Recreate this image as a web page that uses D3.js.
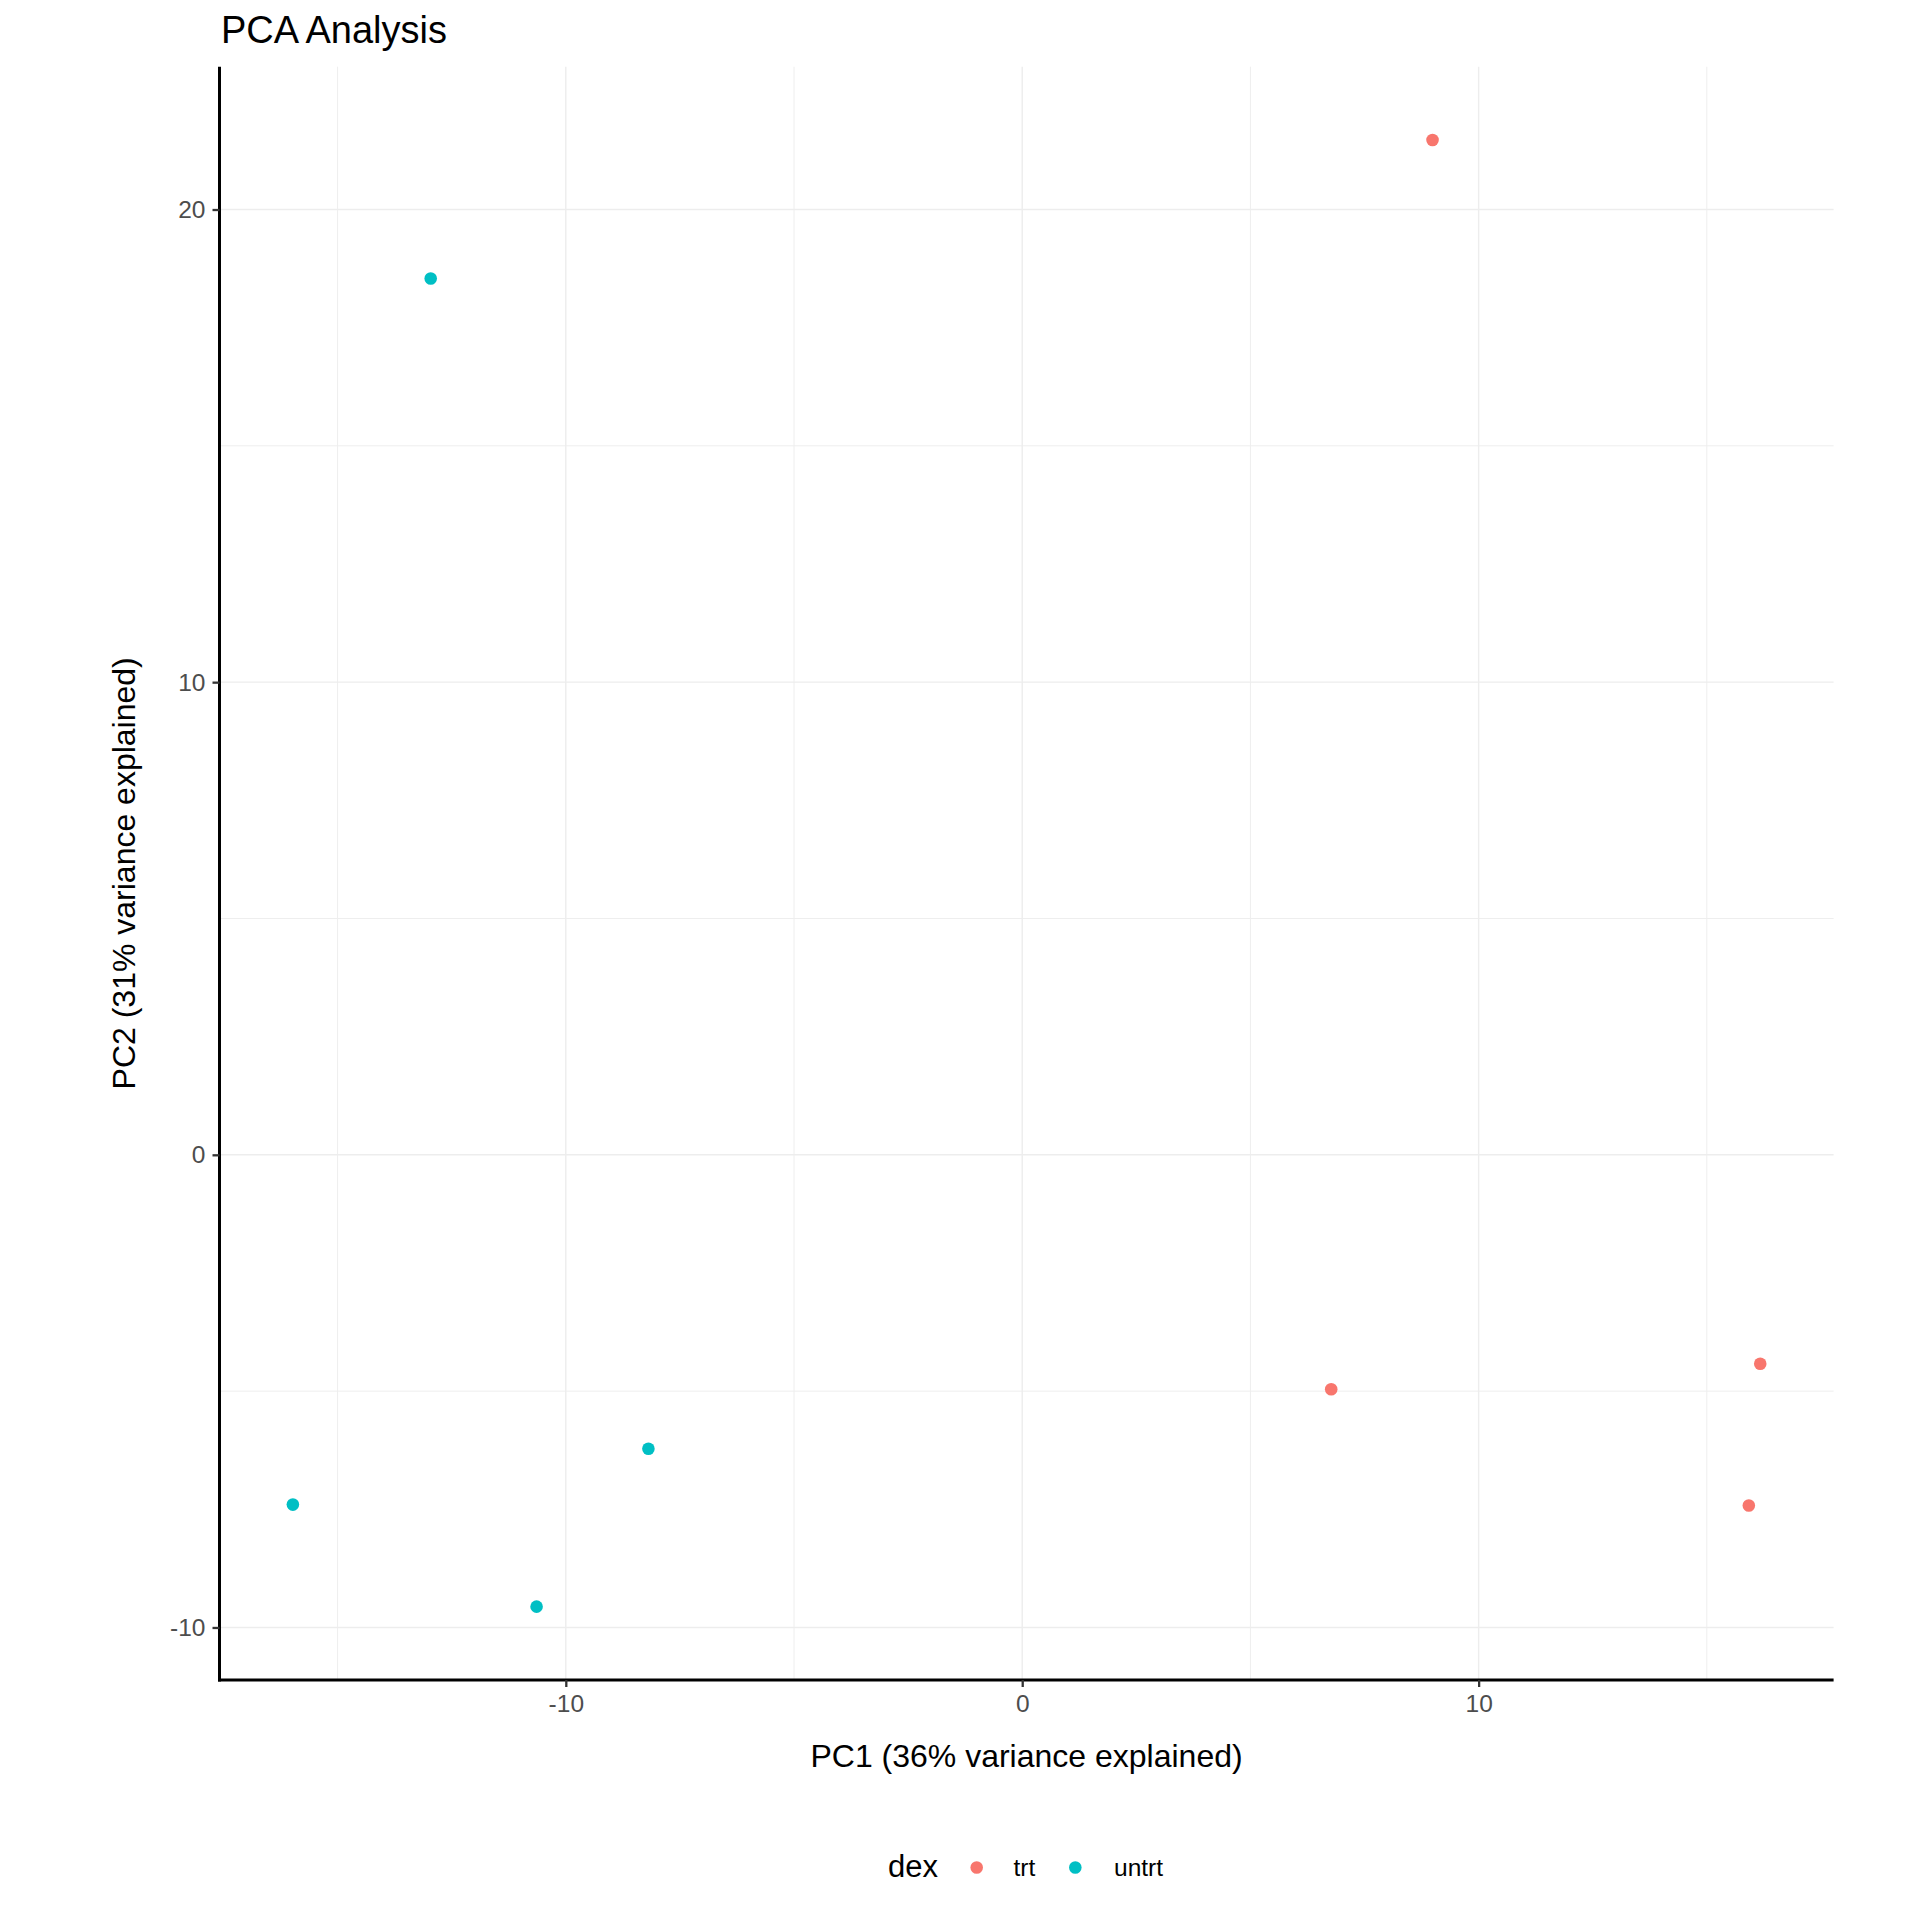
<!DOCTYPE html>
<html>
<head>
<meta charset="utf-8">
<script src="https://cdn.jsdelivr.net/npm/d3@7"></script>
<style>
  html, body { margin: 0; padding: 0; background: #fff; }
  svg { display: block; font-family: "Liberation Sans", Arial, Helvetica, sans-serif; }
</style>
</head>
<body>
<script>
// ---- data ----
const pc1 = [8.99, 6.77, 16.17, 15.92, -12.96, -15.98, -10.64, -8.19];
const pc2 = [21.47, -4.96, -4.42, -7.42, 18.54, -7.40, -9.56, -6.22];
const dex = ["trt", "trt", "trt", "trt", "untrt", "untrt", "untrt", "untrt"];
const groups = ["trt", "untrt"];
const groupColors = ["#F8766D", "#00BFC4"];
const xMajor = [-10, 0, 10];
const xMinor = [-15, -5, 5, 15];
const yMajor = [-10, 0, 10, 20];
const yMinor = [-5, 5, 15];
const titleText = "PCA Analysis";
const xTitle = "PC1 (36% variance explained)";
const yTitle = "PC2 (31% variance explained)";
const legendTitle = "dex";

// ---- layout ----
const W = 1920, H = 1920;
const panel = { left: 219.5, right: 1833.6, top: 66.7, bottom: 1680 };

const svg = d3.select("body").append("svg").attr("width", W).attr("height", H);

function expand(ext, f) { const d = (ext[1] - ext[0]) * f; return [ext[0] - d, ext[1] + d]; }
const x = d3.scaleLinear().domain(expand(d3.extent(pc1), 0.05)).range([panel.left, panel.right]);
const y = d3.scaleLinear().domain(expand(d3.extent(pc2), 0.05)).range([panel.bottom, panel.top]);
const color = d3.scaleOrdinal().domain(groups).range(groupColors);

// grid
const grid = svg.append("g");
grid.selectAll("line.vmin").data(xMinor).join("line")
  .attr("x1", d => x(d)).attr("x2", d => x(d)).attr("y1", panel.top).attr("y2", panel.bottom)
  .attr("stroke", "#EEEEEE").attr("stroke-width", 1);
grid.selectAll("line.hmin").data(yMinor).join("line")
  .attr("y1", d => y(d)).attr("y2", d => y(d)).attr("x1", panel.left).attr("x2", panel.right)
  .attr("stroke", "#EEEEEE").attr("stroke-width", 1);
grid.selectAll("line.vmaj").data(xMajor).join("line")
  .attr("x1", d => x(d)).attr("x2", d => x(d)).attr("y1", panel.top).attr("y2", panel.bottom)
  .attr("stroke", "#EDEDED").attr("stroke-width", 1.4);
grid.selectAll("line.hmaj").data(yMajor).join("line")
  .attr("y1", d => y(d)).attr("y2", d => y(d)).attr("x1", panel.left).attr("x2", panel.right)
  .attr("stroke", "#EDEDED").attr("stroke-width", 1.4);

// points
const pts = pc1.map((v, i) => ({ x: v, y: pc2[i], g: dex[i] }));
svg.append("g").selectAll("circle").data(pts).join("circle")
  .attr("cx", d => x(d.x)).attr("cy", d => y(d.y)).attr("r", 6.3)
  .attr("fill", d => color(d.g));

// axes
const fmt = d => String(d);
const xAxis = svg.append("g").attr("transform", `translate(0,${panel.bottom})`)
  .call(d3.axisBottom(x).tickValues(xMajor).tickFormat(fmt).tickSize(7).tickSizeOuter(0).tickPadding(8));
const yAxis = svg.append("g").attr("transform", `translate(${panel.left},0)`)
  .call(d3.axisLeft(y).tickValues(yMajor).tickFormat(fmt).tickSize(7).tickSizeOuter(0).tickPadding(7));
[xAxis, yAxis].forEach(a => {
  a.select(".domain").attr("stroke", "#000").attr("stroke-width", 3);
  a.selectAll(".tick line").attr("stroke", "#333333").attr("stroke-width", 2.3);
  a.selectAll(".tick text").attr("fill", "#4D4D4D").attr("font-size", 24.5)
    .attr("font-family", "'Liberation Sans', Arial, Helvetica, sans-serif");
});
// make axis lines meet at corner
xAxis.select(".domain").attr("d", `M${panel.left - 1.5},0H${panel.right}`);
yAxis.select(".domain").attr("d", `M0,${panel.top}V${panel.bottom + 1.5}`);

// titles
svg.append("text").attr("x", panel.left + 1.5).attr("y", 43).attr("font-size", 38)
  .attr("fill", "#000").text(titleText);
svg.append("text").attr("x", (panel.left + panel.right) / 2).attr("y", 1767)
  .attr("text-anchor", "middle").attr("font-size", 32).attr("fill", "#000").text(xTitle);
svg.append("text").attr("transform", `translate(135,${(panel.top + panel.bottom) / 2}) rotate(-90)`)
  .attr("text-anchor", "middle").attr("font-size", 32).attr("fill", "#000").text(yTitle);

// legend
const leg = svg.append("g");
leg.append("text").attr("x", 888).attr("y", 1876.7).attr("font-size", 31).attr("fill", "#000").text(legendTitle);
const legKeyX = [976.7, 1075.3];
const legLabelX = [1013.5, 1114];
groups.forEach((g, i) => {
  leg.append("circle").attr("cx", legKeyX[i]).attr("cy", 1867.5).attr("r", 6.3).attr("fill", color(g));
  leg.append("text").attr("x", legLabelX[i]).attr("y", 1876).attr("font-size", 24.5).attr("fill", "#000").text(g);
});
</script>
</body>
</html>
